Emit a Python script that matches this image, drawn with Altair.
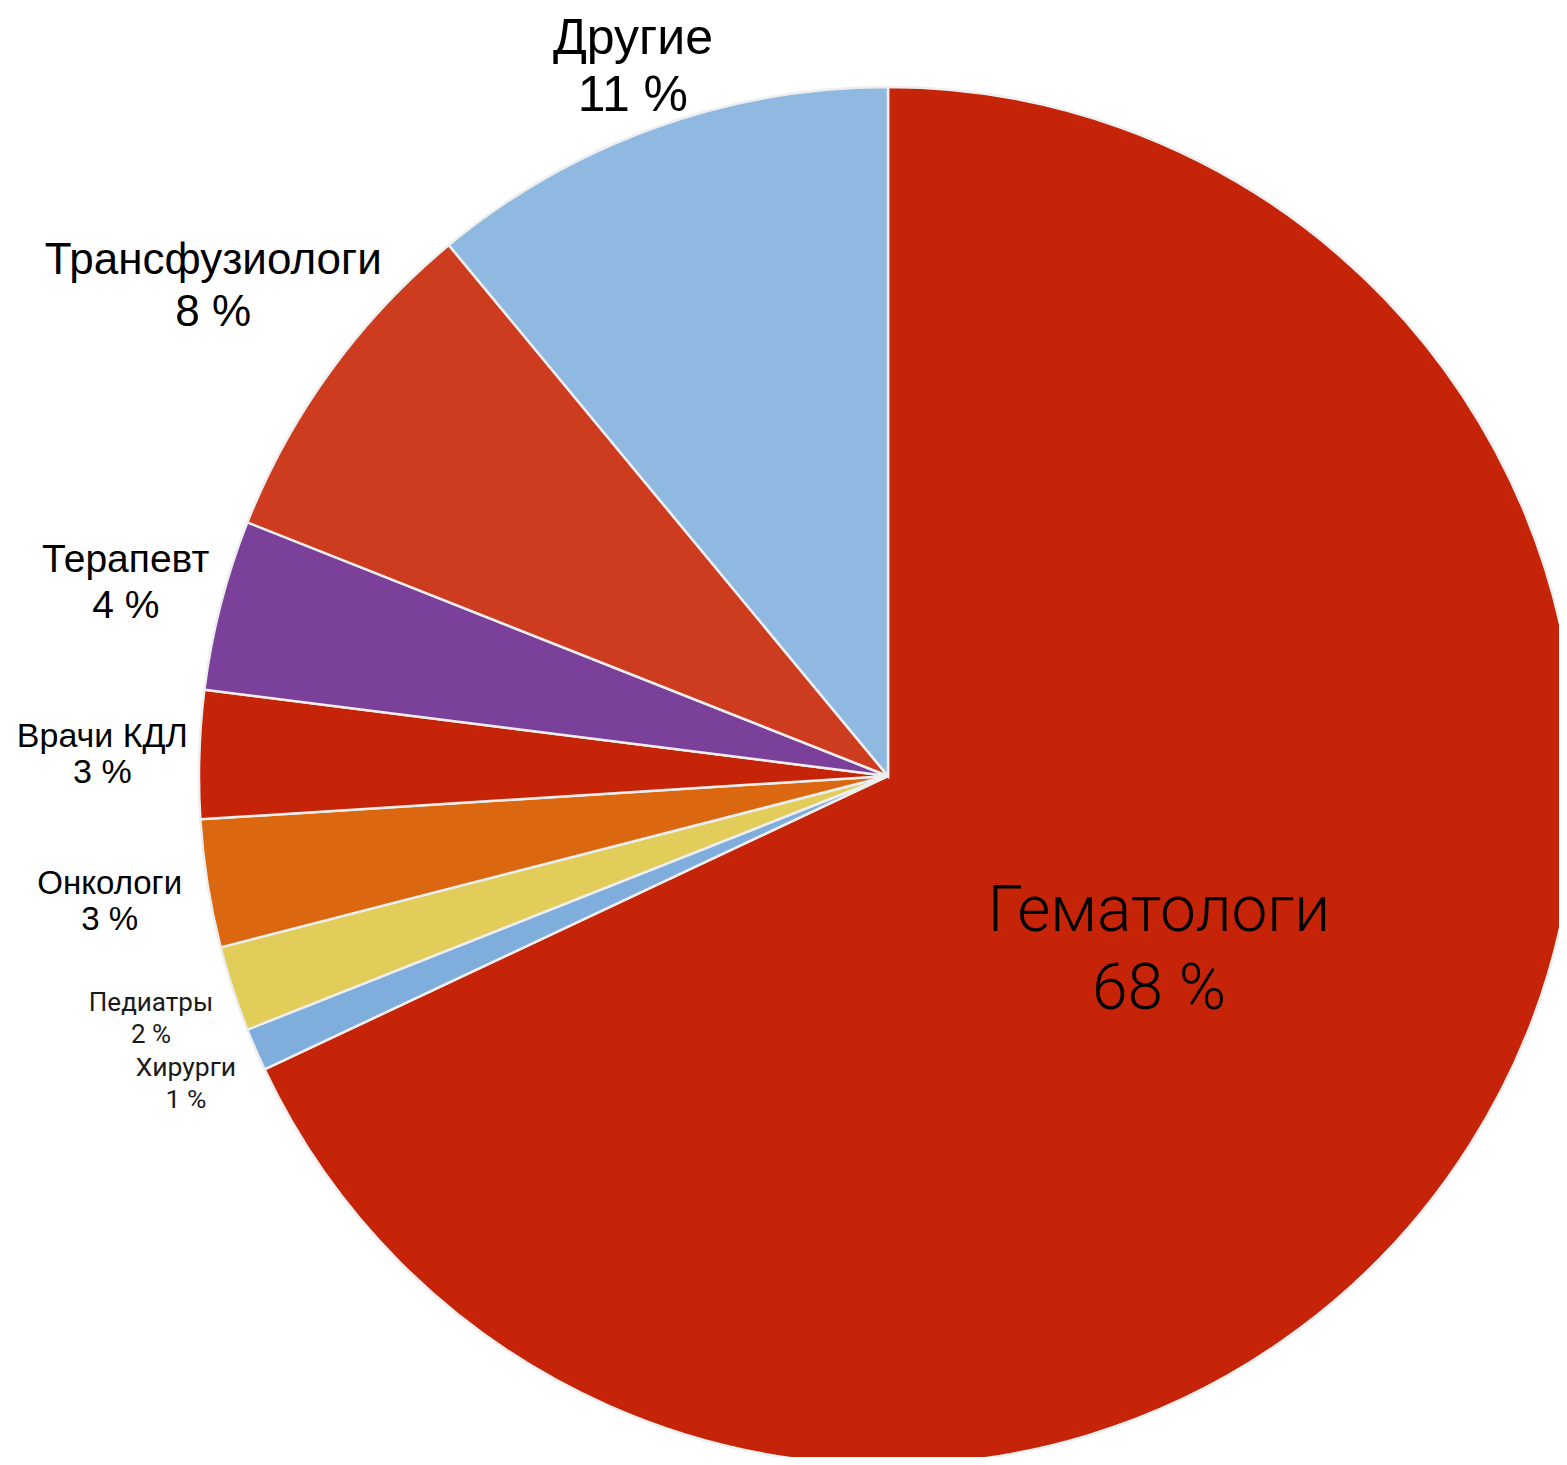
import altair as alt
import pandas as pd

categories = ["Гематологи", "Хирурги", "Педиатры", "Онкологи", "Врачи КДЛ",
              "Терапевт", "Трансфузиологи", "Другие"]
shares = [68, 1, 2, 3, 3, 4, 8, 11]
colors = ["#C52408", "#7FAEDD", "#E2CC5A", "#DB6710", "#C52408",
          "#7A409A", "#CE3C20", "#8FB9E0"]

df = pd.DataFrame({"cat": categories, "share": shares,
                   "idx": list(range(len(categories)))})

CX, CY = 880, 768
R = 689

theta = alt.Theta("share:Q", stack=True)
order = alt.Order("idx:Q")

arcs = alt.Chart(df).mark_arc(
    outerRadius=R, stroke="#eeeeee", strokeWidth=2.5
).encode(
    theta=theta,
    order=order,
    color=alt.Color("cat:N", scale=alt.Scale(domain=categories, range=colors), legend=None),
    x=alt.value(CX), y=alt.value(CY),
)

# (category, font size, label radius, line height, vertical shift, font, weight, colour)
label_style = [
    ("Гематологи", 64, 321, 78, -36, "Roboto", 300, "#000000"),
    ("Хирурги", 26.5, 765, 32, -12, "Roboto", 400, "#1a1a1a"),
    ("Педиатры", 26, 775, 32, -12, "Roboto", 400, "#1a1a1a"),
    ("Онкологи", 33, 788, 36, -15, "Liberation Sans", 400, "#000000"),
    ("Врачи КДЛ", 34, 786, 36, -14, "Liberation Sans", 400, "#000000"),
    ("Терапевт", 39, 787, 46, -20, "Liberation Sans", 400, "#000000"),
    ("Трансфузиологи", 44, 834, 52, -25, "Liberation Sans", 400, "#000000"),
    ("Другие", 50, 753, 57, -29, "Liberation Sans", 400, "#000000"),
]

layers = [arcs]
for cat, fs, rad, lh, shift, font, fw, col in label_style:
    layers.append(
        alt.Chart(df).transform_calculate(
            t=f"datum.cat == '{cat}' ? datum.cat + '\\n' + datum.share + ' %' : ''"
        ).mark_text(
            radius=rad, fontSize=fs, lineHeight=lh, lineBreak="\n", font=font,
            fontWeight=fw, color=col, align="center", baseline="middle", dy=shift
        ).encode(
            theta=theta, order=order, text="t:N",
            x=alt.value(CX), y=alt.value(CY),
        )
    )

chart = alt.layer(*layers).properties(
    width=1551, height=1449, padding=0, autosize=alt.AutoSizeParams(type="none"),
    background="white",
).configure_view(stroke=None)

chart.save("out.html", embed_options={"renderer": "svg", "actions": False})
